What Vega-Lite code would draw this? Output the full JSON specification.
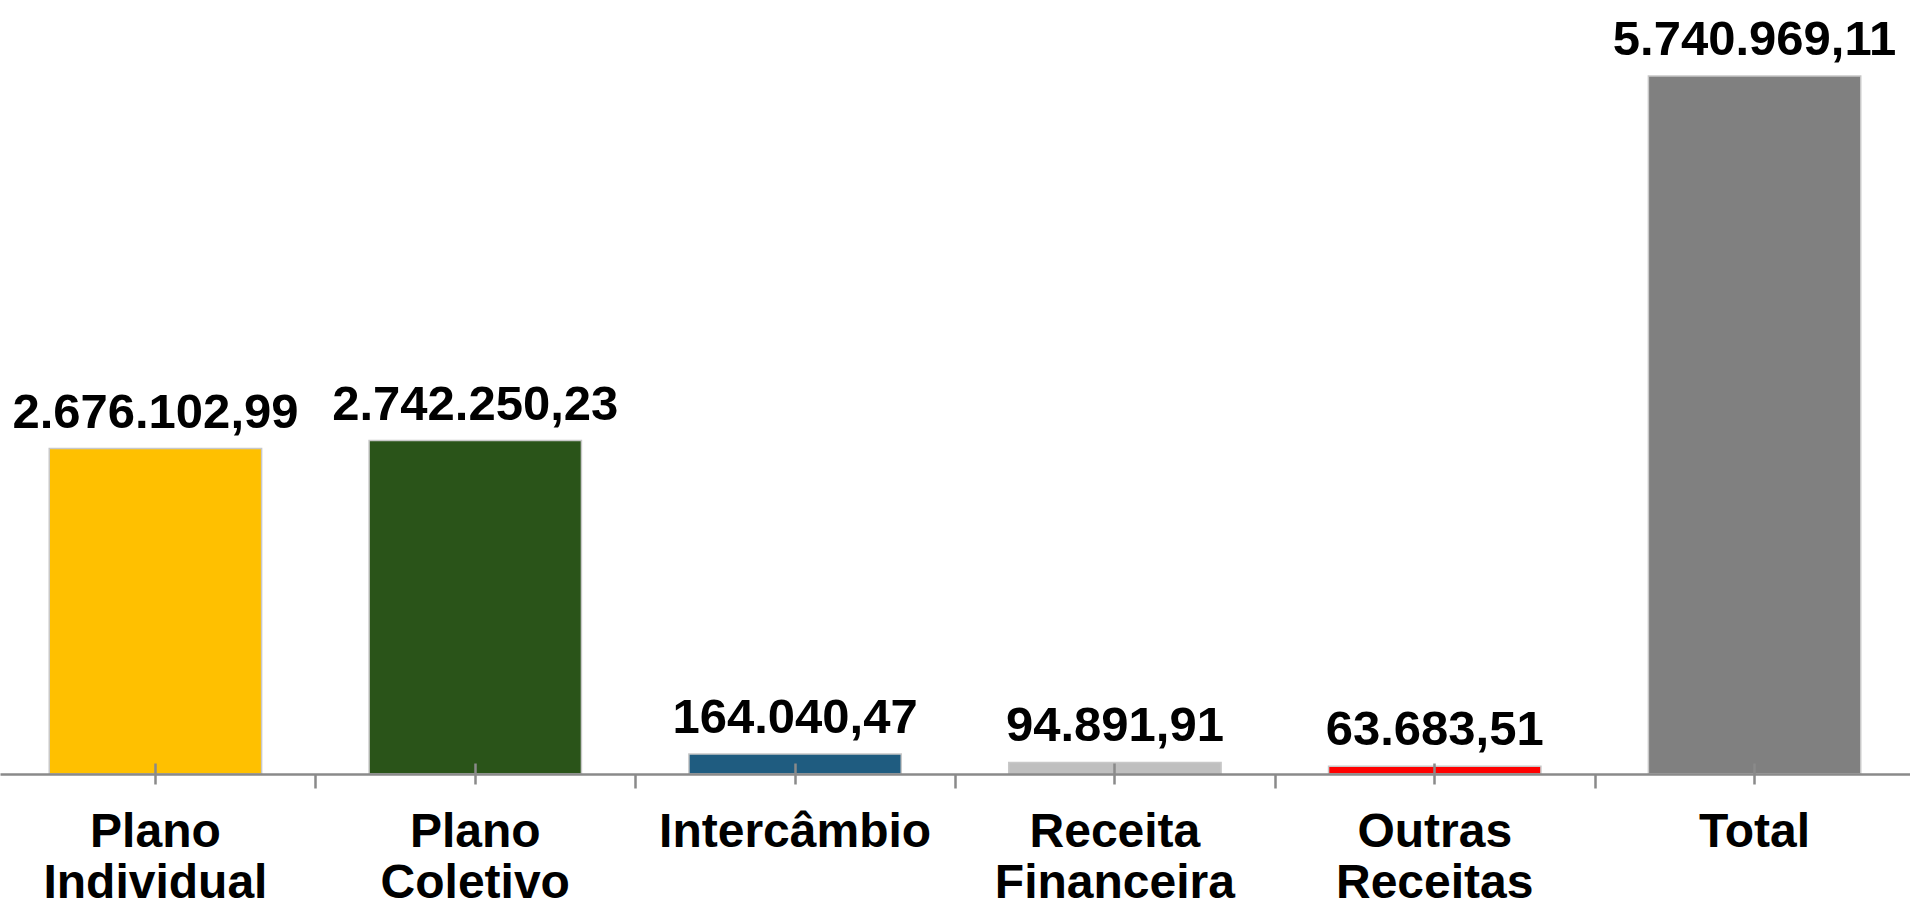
{
  "$schema": "https://vega.github.io/schema/vega-lite/v6.json",
  "width": 1910,
  "height": 774,
  "autosize": {"type": "none"},
  "padding": {"left": 0, "top": 0, "right": 0, "bottom": 133},
  "background": "white",
  "config": {
    "view": {"stroke": null},
    "locale": {"number": {"decimal": ",", "thousands": ".", "grouping": [3], "currency": ["R$ ", ""]}}
  },
  "data": {
    "values": [
      {"categoria": "Plano Individual", "valor": 2676102.99},
      {"categoria": "Plano Coletivo", "valor": 2742250.23},
      {"categoria": "Intercâmbio", "valor": 164040.47},
      {"categoria": "Receita Financeira", "valor": 94891.91},
      {"categoria": "Outras Receitas", "valor": 63683.51},
      {"categoria": "Total", "valor": 5740969.11}
    ]
  },
  "encoding": {
    "y": {"field": "valor", "type": "quantitative", "scale": {"domain": [0, 6365000], "nice": false, "zero": true}, "axis": null}
  },
  "layer": [
    {
      "mark": {"type": "bar", "stroke": "#c8c8c8", "strokeWidth": 1.5},
      "encoding": {
        "x": {
          "field": "categoria", "type": "nominal", "sort": null,
          "scale": {"paddingInner": 0.336, "paddingOuter": 0.154},
          "axis": {
            "orient": "bottom", "title": null, "tickOffset": 159.9, "labels": false, "zindex": 1,
            "domain": true, "domainColor": "#8a8a8a", "domainWidth": 2.5,
            "ticks": true, "tickColor": "#8a8a8a", "tickWidth": 2.5, "tickSize": 14, "grid": false
          }
        },
        "color": {
          "field": "categoria", "type": "nominal", "legend": null,
          "scale": {
            "domain": ["Plano Individual", "Plano Coletivo", "Intercâmbio", "Receita Financeira", "Outras Receitas", "Total"],
            "range": ["#FFC000", "#2A5419", "#1F5C80", "#BFBFBF", "#FF0000", "#808080"]
          }
        }
      }
    },
    {
      "mark": {"type": "text", "font": "Liberation Sans", "fontWeight": "bold", "fontSize": 49, "baseline": "alphabetic", "dy": -21, "color": "#000000"},
      "encoding": {
        "x": {
          "field": "categoria", "type": "nominal", "sort": null,
          "axis": {
            "orient": "bottom", "title": null, "domain": false, "offset": -11, "grid": false, "zindex": 1,
            "ticks": true, "tickColor": "#8a8a8a", "tickWidth": 2.5, "tickSize": 21,
            "labelExpr": "split(datum.label, ' ')",
            "labelFont": "Liberation Sans", "labelFontWeight": "bold", "labelFontSize": 48,
            "labelColor": "#000000", "labelLineHeight": 51, "labelPadding": 24,
            "labelAngle": 0, "labelLimit": 0, "labelBaseline": "top", "labelOverlap": false
          }
        },
        "text": {"field": "valor", "type": "quantitative", "format": ",.2f"}
      }
    }
  ],
  "resolve": {"axis": {"x": "independent"}}
}
